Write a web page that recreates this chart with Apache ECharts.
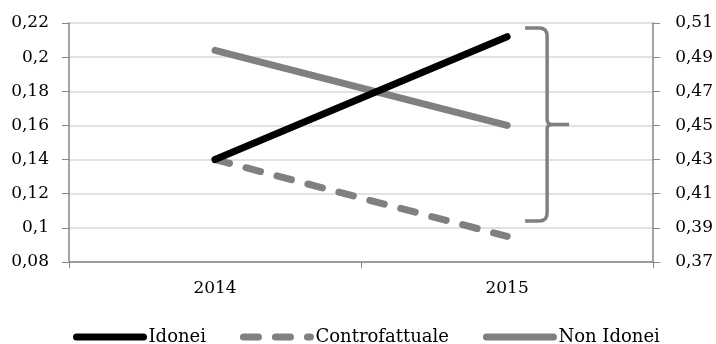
<!DOCTYPE html>
<html>
<head>
    <meta charset="utf-8">
    <title>ECharts</title>
    <script type="text/javascript" src="https://cdn.jsdelivr.net/npm/echarts@6/dist/echarts.min.js"></script>
    <style>
        html, body { margin: 0; padding: 0; background: #fff; }
    </style>
</head>
<body>
<div id="main" style="width: 716px;height:344px;"></div>
<script type="text/javascript">
    // dati
    var anni = ['2014', '2015'];
    var idonei = [0.14, 0.212];
    var controfattuale = [0.14, 0.095];
    var nonIdonei = [0.494, 0.45];   // asse destro
    // parentesi graffa sul 2015 (asse sinistro): [categoria, alto, basso]
    var graffa = [[1, 0.217, 0.104]];

    var fmt = function (v) {
        return String(parseFloat(Number(v).toFixed(2))).replace('.', ',');
    };
    var font = 'DejaVu Serif';
    var grigio = '#808080';

    var myChart = echarts.init(document.getElementById('main'));

    myChart.setOption({
        animation: false,
        textStyle: { fontFamily: font },
        grid: { left: 69, right: 61, top: 23, bottom: 82 },
        legend: {
            top: 328,
            left: 73,
            padding: 0,
            data: ['Idonei', 'Controfattuale', 'Non Idonei'],
            itemWidth: 67,
            itemHeight: 8,
            itemGap: 34,
            itemStyle: { opacity: 0 },
            lineStyle: { width: 7, cap: 'round' },
            textStyle: { fontFamily: font, fontSize: 18, color: '#000' }
        },
        xAxis: {
            type: 'category',
            data: anni,
            boundaryGap: true,
            axisLine: { lineStyle: { color: '#868686', width: 1.5 } },
            axisTick: { show: true, length: 6, lineStyle: { color: '#868686' } },
            axisLabel: { color: '#000', fontSize: 17, margin: 18, fontFamily: font }
        },
        yAxis: [{
            type: 'value',
            min: 0.08,
            max: 0.22,
            interval: 0.02,
            axisLine: { show: true, lineStyle: { color: '#868686', width: 1.5 } },
            axisTick: { show: true, length: 7, lineStyle: { color: '#868686' } },
            splitLine: { lineStyle: { color: '#d9d9d9', width: 1.5 } },
            axisLabel: { color: '#000', fontSize: 17, margin: 20, fontFamily: font, formatter: fmt }
        }, {
            type: 'value',
            min: 0.37,
            max: 0.51,
            alignTicks: true,
            position: 'right',
            axisLine: { show: true, lineStyle: { color: '#868686', width: 1.5 } },
            axisTick: { show: true, length: 7, lineStyle: { color: '#868686' } },
            splitLine: { show: false },
            axisLabel: { color: '#000', fontSize: 17, margin: 22, fontFamily: font, formatter: fmt }
        }],
        series: [{
            name: 'Idonei',
            type: 'line',
            data: idonei,
            symbol: 'none',
            color: '#000',
            lineStyle: { color: '#000', width: 7, cap: 'round' },
            z: 3
        }, {
            name: 'Controfattuale',
            type: 'line',
            data: controfattuale,
            symbol: 'none',
            color: grigio,
            lineStyle: { color: grigio, width: 7, type: [15, 17], cap: 'round' },
            z: 2
        }, {
            name: 'Non Idonei',
            type: 'line',
            yAxisIndex: 1,
            data: nonIdonei,
            symbol: 'none',
            color: grigio,
            lineStyle: { color: grigio, width: 7, cap: 'round' },
            z: 2
        }, {
            name: 'graffa',
            type: 'custom',
            yAxisIndex: 0,
            silent: true,
            data: graffa,
            renderItem: function (params, api) {
                var a = api.coord([api.value(0), api.value(1)]);
                var b = api.coord([api.value(0), api.value(2)]);
                var x0 = a[0] + 18, xv = a[0] + 40, xt = a[0] + 62;
                var yt = a[1], yb = b[1], ym = (yt + yb) / 2, r = 8, rm = 5;
                var d = 'M' + x0 + ' ' + yt +
                    ' L' + (xv - r) + ' ' + yt +
                    ' Q' + xv + ' ' + yt + ' ' + xv + ' ' + (yt + r) +
                    ' L' + xv + ' ' + (ym - rm) +
                    ' Q' + xv + ' ' + ym + ' ' + (xv + rm) + ' ' + ym +
                    ' L' + xt + ' ' + ym +
                    ' M' + (xv + rm) + ' ' + ym +
                    ' Q' + xv + ' ' + ym + ' ' + xv + ' ' + (ym + rm) +
                    ' L' + xv + ' ' + (yb - r) +
                    ' Q' + xv + ' ' + yb + ' ' + (xv - r) + ' ' + yb +
                    ' L' + x0 + ' ' + yb;
                return {
                    type: 'path',
                    shape: { pathData: d },
                    style: { stroke: grigio, fill: null, lineWidth: 3.5 }
                };
            }
        }]
    });
</script>
</body>
</html>
